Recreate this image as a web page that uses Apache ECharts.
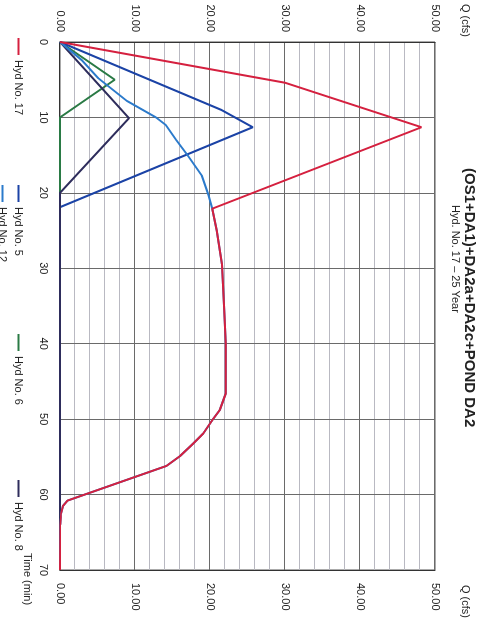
<!DOCTYPE html>
<html>
<head>
<meta charset="utf-8">
<script src="https://cdn.jsdelivr.net/npm/echarts@6/dist/echarts.min.js"></script>
<style>
html, body { margin: 0; padding: 0; background: #ffffff; overflow: hidden; width: 487px; height: 621px; }
#chart { position: absolute; left: 0; top: 0; width: 621px; height: 487px; transform-origin: 0 0; transform: translate(487px, 0) rotate(90deg); background: #ffffff; }
</style>
</head>
<body>
<div id="chart"></div>
<script>
// ---- data (time in min, Q in cfs) ----
var qTicks = [0, 10, 20, 30, 40, 50];
var timeTicks = [0, 10, 20, 30, 40, 50, 60, 70];

// pond outflow tail shared by Hyd No. 12 and Hyd No. 17
var pondTime = [22.1, 25, 29.5, 35.6, 40, 46.6, 48.8, 50, 51.9, 53.2, 54.9, 56.2, 60.8, 61.5, 62.5, 64, 70];
var pondQ    = [20.3, 20.9, 21.6, 21.9, 22.1, 22.1, 21.3, 20.4, 19.1, 17.8, 16.0, 14.2, 1.0, 0.4, 0.15, 0.05, 0];

var hyd17RiseTime = [0, 5.4, 11.3];
var hyd17RiseQ    = [0, 30, 48.2];

var hyd12RiseTime = [0, 2.4, 4.8, 7.8, 10, 11, 13, 15, 17.7, 20.3];
var hyd12RiseQ    = [0, 2.9, 5.1, 8.9, 12.8, 14.1, 15.5, 17.0, 18.9, 19.8];

var hyd5Time = [0, 9.0, 11.3, 21.9, 70];
var hyd5Q    = [0, 21.5, 25.7, 0, 0];

var hyd6Time = [0, 5, 10, 70];
var hyd6Q    = [0, 7.3, 0, 0];

var hyd8Time = [0, 10.1, 20, 70];
var hyd8Q    = [0, 9.2, 0, 0];

function pairs(t, q) { return t.map(function (v, i) { return [v, q[i]]; }); }

var hyd17 = pairs(hyd17RiseTime.concat(pondTime), hyd17RiseQ.concat(pondQ));
var hyd12 = pairs(hyd12RiseTime.concat(pondTime), hyd12RiseQ.concat(pondQ));

var FONT = 'Liberation Sans';
var C17 = '#d5203f', C5 = '#1b43a6', C6 = '#2a7a45', C8 = '#2e2d5c', C12 = '#2b7acb';

function lineSeries(name, data, color) {
  return { name: name, type: 'line', data: data, symbol: 'none', smooth: false,
           lineStyle: { color: color, width: 2 }, itemStyle: { color: color }, animation: false };
}

function legend(name, left, top) {
  return { data: [name], left: left, top: top, icon: 'rect', itemWidth: 17, itemHeight: 2,
           padding: 0, textStyle: { fontFamily: FONT, fontSize: 11, color: '#222' }, selectedMode: false };
}

var qAxisBase = {
  type: 'value', min: 0, max: 50, interval: 10,
  axisLine: { show: true, lineStyle: { color: '#333', width: 1 } },
  axisTick: { show: false },
  minorTick: { show: false, splitNumber: 5 },
  minorSplitLine: { show: true, lineStyle: { color: '#b9b9c2', width: 1 } },
  splitLine: { show: true, lineStyle: { color: '#6a6a6a', width: 1 } },
  axisLabel: { fontFamily: FONT, fontSize: 11, color: '#222', margin: 10,
               formatter: function (v) { return v.toFixed(2); } },
  name: 'Q (cfs)', nameLocation: 'end', nameGap: 30
};

var chart = echarts.init(document.getElementById('chart'), null, { renderer: 'canvas' });
chart.setOption({
  backgroundColor: '#ffffff',
  animation: false,
  title: [
    { text: '(OS1+DA1)+DA2a+DA2c+POND DA2', left: 163, top: 5,
      textStyle: { fontFamily: FONT, fontSize: 15, fontWeight: 'bold', color: '#222' } },
    { text: 'Hyd. No. 17 \u2013 25 Year', left: 200, top: 21,
      textStyle: { fontFamily: FONT, fontSize: 11, fontWeight: 'normal', color: '#222' } }
  ],
  legend: [
    legend('Hyd No. 17', 38, 463),
    legend('Hyd No. 5', 185, 463),
    legend('Hyd No. 6', 334, 463),
    legend('Hyd No. 8', 480, 463),
    legend('Hyd No. 12', 185, 479)
  ],
  grid: { left: 42, right: 46, top: 52, bottom: 60, show: true, borderColor: '#555', borderWidth: 1, containLabel: false },
  xAxis: {
    type: 'value', min: 0, max: 70, interval: 10,
    axisLine: { show: true, onZero: false, lineStyle: { color: '#333', width: 1 } },
    axisTick: { show: false },
    splitLine: { show: true, lineStyle: { color: '#6a6a6a', width: 1 } },
    axisLabel: { fontFamily: FONT, fontSize: 11, color: '#222', margin: 11 },
    name: 'Time (min)', nameLocation: 'end', nameGap: -17,
    nameTextStyle: { fontFamily: FONT, fontSize: 11, color: '#222', align: 'left', verticalAlign: 'top', padding: [27, 0, 0, 0] }
  },
  yAxis: [
    Object.assign({}, qAxisBase, { position: 'left',
      nameTextStyle: { fontFamily: FONT, fontSize: 11, color: '#222', align: 'right', verticalAlign: 'middle', padding: [0, 5, 0, 0] } }),
    Object.assign({}, qAxisBase, { position: 'right', splitLine: { show: false }, minorSplitLine: { show: false },
      nameTextStyle: { fontFamily: FONT, fontSize: 11, color: '#222', align: 'left', verticalAlign: 'middle', padding: [0, 0, 0, 15] },
      axisLabel: { fontFamily: FONT, fontSize: 11, color: '#222', margin: 13, formatter: function (v) { return v.toFixed(2); } } })
  ],
  series: [
    lineSeries('Hyd No. 6', pairs(hyd6Time, hyd6Q), C6),
    lineSeries('Hyd No. 5', pairs(hyd5Time, hyd5Q), C5),
    lineSeries('Hyd No. 8', pairs(hyd8Time, hyd8Q), C8),
    lineSeries('Hyd No. 12', hyd12, C12),
    lineSeries('Hyd No. 17', hyd17, C17)
  ]
});
</script>
</body>
</html>
